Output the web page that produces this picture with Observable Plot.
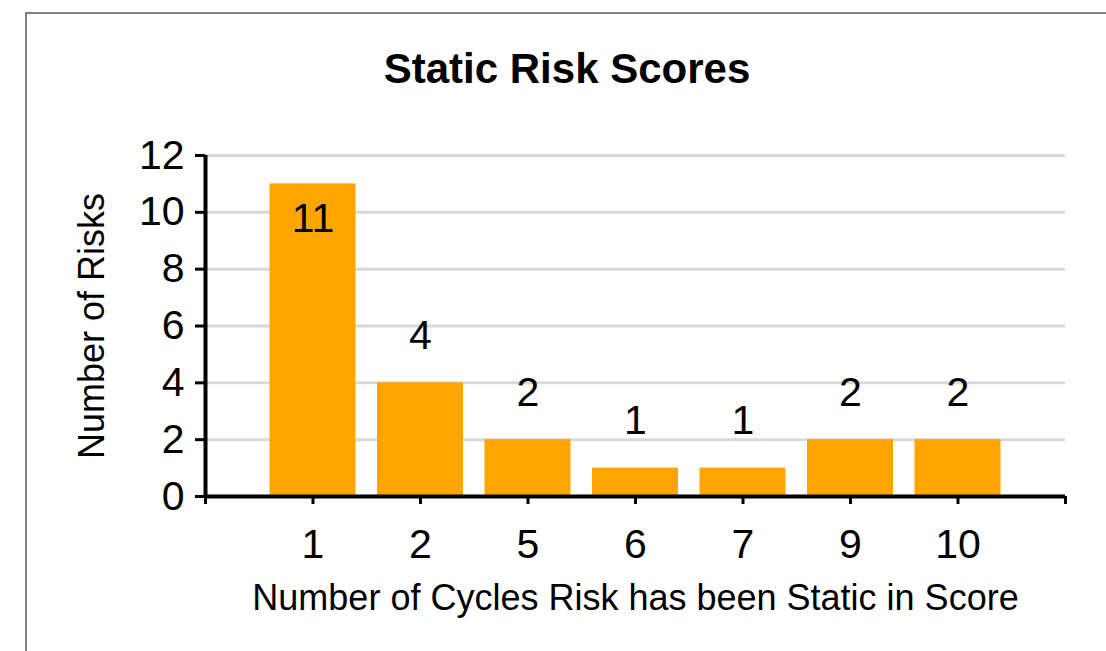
<!DOCTYPE html>
<html><head><meta charset="utf-8">
<script src="https://cdn.jsdelivr.net/npm/d3@7"></script>
<script src="https://cdn.jsdelivr.net/npm/@observablehq/plot@0.6"></script>
<style>
html,body{margin:0;padding:0;background:#fff;width:1106px;height:651px;overflow:hidden;}
#wrap{position:relative;width:1106px;height:651px;}
#frame{position:absolute;left:25px;top:12px;width:1200px;height:800px;border-left:2px solid #808080;border-top:2px solid #808080;}
#title{position:absolute;left:367px;width:400px;top:48px;text-align:center;font:bold 42px "Liberation Sans",Arial,sans-serif;line-height:42px;color:#000;white-space:nowrap;}
#chart{position:absolute;left:0;top:0;}
</style></head><body>
<div id="wrap"><div id="frame"></div><div id="chart"></div><div id="title">Static Risk Scores</div></div>
<script>
const categories = ["1", "2", "5", "6", "7", "9", "10"];
const counts = [11, 4, 2, 1, 1, 2, 2];
const yTicks = [0, 2, 4, 6, 8, 10, 12];
const titleText = "Static Risk Scores";
const xLabel = "Number of Cycles Risk has been Static in Score";
const yLabel = "Number of Risks";

const data = categories.map((c, i) => ({cat: c, pos: i + 1, count: counts[i]}));
const slots = d3.range(0, categories.length + 2);

const chart = Plot.plot({
  width: 1106,
  height: 651,
  marginLeft: 205,
  marginRight: 41,
  marginTop: 155,
  marginBottom: 155,
  style: {fontFamily: "'Liberation Sans', Arial, sans-serif", background: "transparent", color: "#000"},
  x: {type: "linear", domain: [0, categories.length + 1]},
  y: {domain: [0, 12]},
  marks: [
    Plot.ruleY(yTicks.filter(v => v > 0), {stroke: "#d9d9d9", strokeWidth: 3}),
    Plot.rectY(data, {x1: d => d.pos - 0.4, x2: d => d.pos + 0.4, y1: 0, y2: "count", fill: "#FFA500"}),
    Plot.ruleY([0], {stroke: "#000", strokeWidth: 4}),
    Plot.ruleX([0], {stroke: "#000", strokeWidth: 4}),
    Plot.axisY({ticks: yTicks, tickSize: 10, tickPadding: 11, fontSize: 41, strokeWidth: 3, label: null}),
    Plot.axisX({ticks: slots, tickSize: 8, tickPadding: 24, fontSize: 41, strokeWidth: 3, label: null,
      tickFormat: i => categories[i - 1] ?? ""}),
    Plot.text(data.filter(d => d.count <= 10), {x: "pos", y: "count", text: d => String(d.count), fontSize: 41, dy: -47, fill: "#000"}),
    Plot.text(data.filter(d => d.count > 10), {x: "pos", y: "count", text: d => String(d.count), fontSize: 41, dy: 35, fill: "#000"}),
    Plot.text([xLabel], {frameAnchor: "bottom", dy: 113, fontSize: 36, fill: "#000"}),
    Plot.text([yLabel], {frameAnchor: "left", textAnchor: "middle", rotate: -90, dx: -113, fontSize: 36, fill: "#000"})
  ]
});
document.getElementById("chart").appendChild(chart);
document.getElementById("title").textContent = titleText;
</script>
</body></html>
